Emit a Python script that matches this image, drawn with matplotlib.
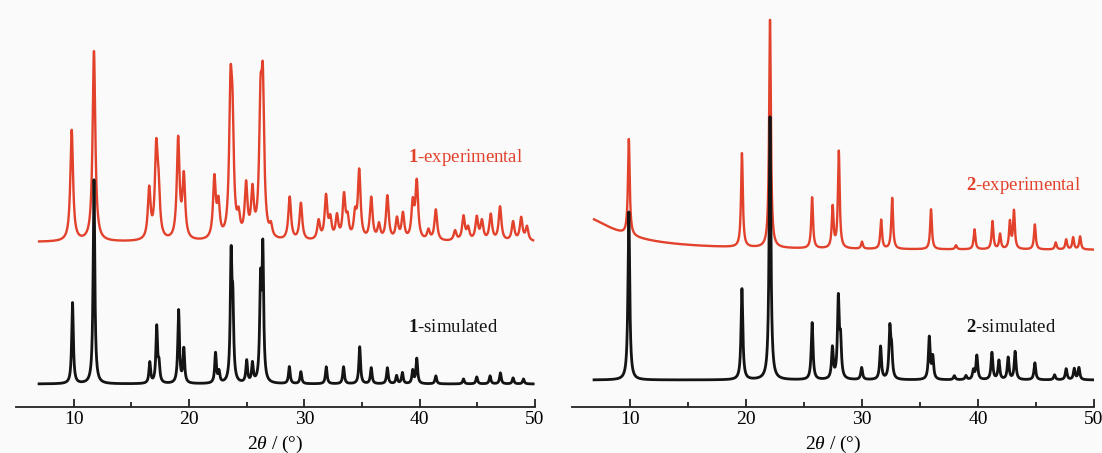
import numpy as np
import matplotlib.pyplot as plt
from matplotlib.ticker import FixedLocator

plt.rcParams['font.family'] = ['Liberation Serif', 'DejaVu Serif']
plt.rcParams['mathtext.fontset'] = 'custom'
plt.rcParams['mathtext.rm'] = 'Liberation Serif'
plt.rcParams['mathtext.it'] = 'Liberation Serif:italic'
plt.rcParams['mathtext.bf'] = 'Liberation Serif:bold'

# peak lists: 2theta (deg) and height (a.u.)
c1_exp_pos = [9.83, 11.76, 16.55, 17.16, 17.36, 19.06, 19.55, 22.2, 22.55, 23.6, 23.77, 24.3,
              24.95, 25.5, 26.2, 26.4, 27.1, 28.73, 29.7, 31.24, 31.88, 32.25, 32.83, 33.44,
              33.75, 34.4, 34.76, 35.8, 36.47, 37.2, 38.03, 38.55, 39.4, 39.75, 40.76, 41.4,
              43.07, 43.8, 44.2, 44.95, 45.4, 46.16, 46.97, 48.1, 48.8, 49.3]
c1_exp_h = [111, 190, 50, 86, 42, 100, 62, 60, 33, 132, 96, 19,
            52, 45, 116, 137, 11, 43, 37, 19, 43, 19, 23, 43,
            19, 23, 68, 42, 15, 44, 21, 26, 35, 57, 10, 31,
            10, 24, 12, 23, 19, 26, 34, 19, 23, 14]

c1_sim_pos = [9.9, 11.76, 16.6, 17.2, 17.4, 19.1, 19.55, 22.3, 22.6, 23.65, 23.8, 25.0,
              25.5, 26.2, 26.4, 28.7, 29.7, 31.9, 33.4, 34.8, 35.8, 37.2, 38.0, 38.5,
              39.4, 39.75, 41.4, 43.8, 44.95, 46.1, 47.0, 48.1, 49.0]
c1_sim_h = [81, 204, 21, 56, 17, 73, 34, 30, 11, 121, 69, 22,
            19, 95, 130, 17, 12, 17, 17, 37, 16, 16, 8, 11,
            13, 25, 8, 5, 7, 8, 11, 6, 5]

c2_exp_pos = [5.0, 9.9, 19.65, 22.07, 25.7, 27.47, 28.0, 30.0, 31.65, 32.6, 35.95, 38.1,
              39.7, 41.25, 41.9, 42.75, 43.1, 44.9, 46.7, 47.6, 48.2, 48.8]
c2_exp_h = [37.5, 96, 94, 228, 51, 41, 97, 7, 29, 51, 40, 4,
            20, 28, 15, 27, 38, 25, 7, 10, 12, 13]
c2_exp_w = [4.0] + [0.09] * 21

c2_sim_pos = [9.9, 19.65, 22.07, 25.7, 27.45, 27.96, 28.15, 29.97, 31.6, 32.4, 32.55, 35.8,
              36.1, 37.96, 38.96, 39.6, 39.9, 41.2, 41.8, 42.6, 43.2, 44.9, 46.6, 47.6,
              48.3, 48.7]
c2_sim_h = [168, 91, 263, 57, 31, 79, 35, 12, 33, 49, 26, 42,
            22, 4, 4, 9, 24, 27, 19, 22, 28, 17, 5, 11,
            11, 12]


def profile(x, pos, h, w):
    w = np.broadcast_to(w, len(pos))
    y = np.zeros_like(x)
    for p, a, g in zip(pos, h, w):
        y += a * g**2 / ((x - p)**2 + g**2)
    return y


red = '#e2412b'
black = '#141414'
W, H = 1102, 453
fig = plt.figure(figsize=(W / 100, H / 100), dpi=100, facecolor='#fafafa')

x1 = np.arange(7.0, 49.85, 0.01)
x2 = np.arange(6.9, 50.0, 0.01)

panels = [
    (16, 535, x1, (c1_exp_pos, c1_exp_h, 0.14), (c1_sim_pos, c1_sim_h, 0.085), 165, 23, '1', 157),
    (572, 1094, x2, (c2_exp_pos, c2_exp_h, c2_exp_w), (c2_sim_pos, c2_sim_h, 0.09), 157, 27, '2', 185),
]

for left, right, x, exp, sim, off_e, off_s, num, ty in panels:
    ax = fig.add_axes([left / W, (H - 407) / H, (right - left) / W, 407 / H])
    ax.set_facecolor('none')
    ax.plot(x, profile(x, *exp) + off_e, color=red, lw=1.7)
    ax.plot(x, profile(x, *sim) + off_s, color=black, lw=2.0)
    ax.set_xlim(5, 50)
    ax.set_ylim(0, 407)
    for s in ['top', 'left', 'right']:
        ax.spines[s].set_visible(False)
    ax.spines['bottom'].set_linewidth(1.3)
    ax.spines['bottom'].set_color('#222222')
    ax.set_yticks([])
    ax.set_xticks([10, 20, 30, 40, 50])
    ax.xaxis.set_minor_locator(FixedLocator([15, 25, 35, 45]))
    ax.tick_params(axis='x', which='major', direction='in', length=6, width=1.3,
                   labelsize=14, pad=3, color='#222222')
    ax.tick_params(axis='x', which='minor', direction='in', length=3.5, width=1.3, color='#222222')
    ax.set_xlabel(r'2$\mathit{\theta}$ / (°)', fontsize=14, labelpad=4)
    ax.text(0.755, (407 - ty) / 407, r'$\mathbf{' + num + r'}$-experimental',
            transform=ax.transAxes, color=red, fontsize=13.5, ha='left', va='center')
    ax.text(0.755, (407 - 328) / 407, r'$\mathbf{' + num + r'}$-simulated',
            transform=ax.transAxes, color=black, fontsize=13.5, ha='left', va='center')

fig.savefig('out.png', dpi=100, facecolor=fig.get_facecolor())
